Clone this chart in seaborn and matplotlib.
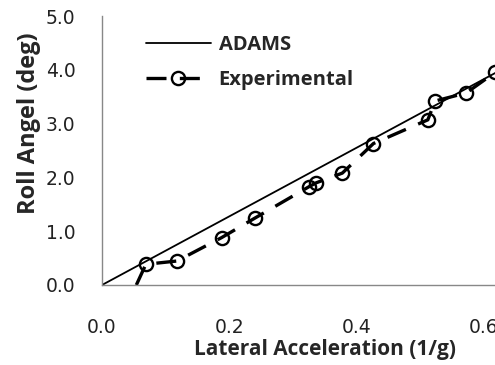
import matplotlib
matplotlib.use("Agg")
import matplotlib.pyplot as plt
import seaborn as sns
import pandas as pd

# ADAMS simulation (straight line)
adams_x = [0.0, 0.62]
adams_y = [0.0, 3.95]

# Experimental data (first value is where the dashed line starts at the axis)
exp_x = [0.054, 0.069, 0.118, 0.188, 0.240, 0.326, 0.337, 0.378, 0.427, 0.5125, 0.524, 0.573, 0.618]
exp_y = [0.0, 0.385, 0.446, 0.88, 1.24, 1.83, 1.90, 2.08, 2.63, 3.07, 3.42, 3.57, 3.95]

xticks = [0.0, 0.2, 0.4, 0.6]
yticks = [0.0, 1.0, 2.0, 3.0, 4.0, 5.0]

sns.set_style("white")
plt.rcParams['font.family'] = ['DejaVu Sans']

fig = plt.figure(figsize=(4.95, 3.65), dpi=100)
ax = fig.add_axes([102/495, 1 - 285/365, 1 - 102/495 + 0.005, (285 - 16)/365])

df_a = pd.DataFrame({"x": adams_x, "y": adams_y})
df_e = pd.DataFrame({"x": exp_x, "y": exp_y})

sns.lineplot(data=df_a, x="x", y="y", ax=ax, color="black", linewidth=1.3, label="ADAMS")
sns.lineplot(data=df_e, x="x", y="y", ax=ax, color="black", linewidth=2.4,
             linestyle=(0, (6, 4)), marker="o", markersize=9.5, markerfacecolor="none",
             markeredgecolor="black", markeredgewidth=1.7, markevery=list(range(1, len(exp_x))),
             label="Experimental", sort=False)

ax.set_xlim(0, (495 - 102) / 640 + 0.008)
ax.set_ylim(0, 5.0)
ax.set_xticks(xticks)
ax.set_yticks(yticks)
ax.set_xticklabels([f"{v:.1f}" for v in xticks], fontsize=13.5, color="#222222")
ax.set_yticklabels([f"{v:.1f}" for v in yticks], fontsize=13.5, color="#222222")
ax.tick_params(axis="both", direction="in", length=5, width=1, color="#888888")
ax.tick_params(axis="x", pad=24)
ax.tick_params(axis="y", pad=19)

for s in ["top", "right"]:
    ax.spines[s].set_visible(False)
for s in ["left", "bottom"]:
    ax.spines[s].set_color("#888888")
    ax.spines[s].set_linewidth(1)

ax.set_xlabel("Lateral Acceleration (1/g)", fontsize=15, fontweight="bold",
              fontfamily="Open Sans")
ax.set_ylabel("Roll Angel (deg)", fontsize=17, fontweight="bold",
              fontfamily="Open Sans")
ax.xaxis.label.set_va("center")
ax.yaxis.label.set_va("center")
ax.xaxis.set_label_coords(0.564, (285 - 349) / 269)
ax.yaxis.set_label_coords((29 - 102) / 395.5, (285 - 123) / 269)

leg = ax.legend(loc="upper left", bbox_to_anchor=(0.066, 0.995), frameon=False,
                prop={"family": "Open Sans", "weight": "bold", "size": 14.5},
                handlelength=3.2, handletextpad=0.4, labelspacing=0.7)

fig.savefig("out.png", dpi=100)
